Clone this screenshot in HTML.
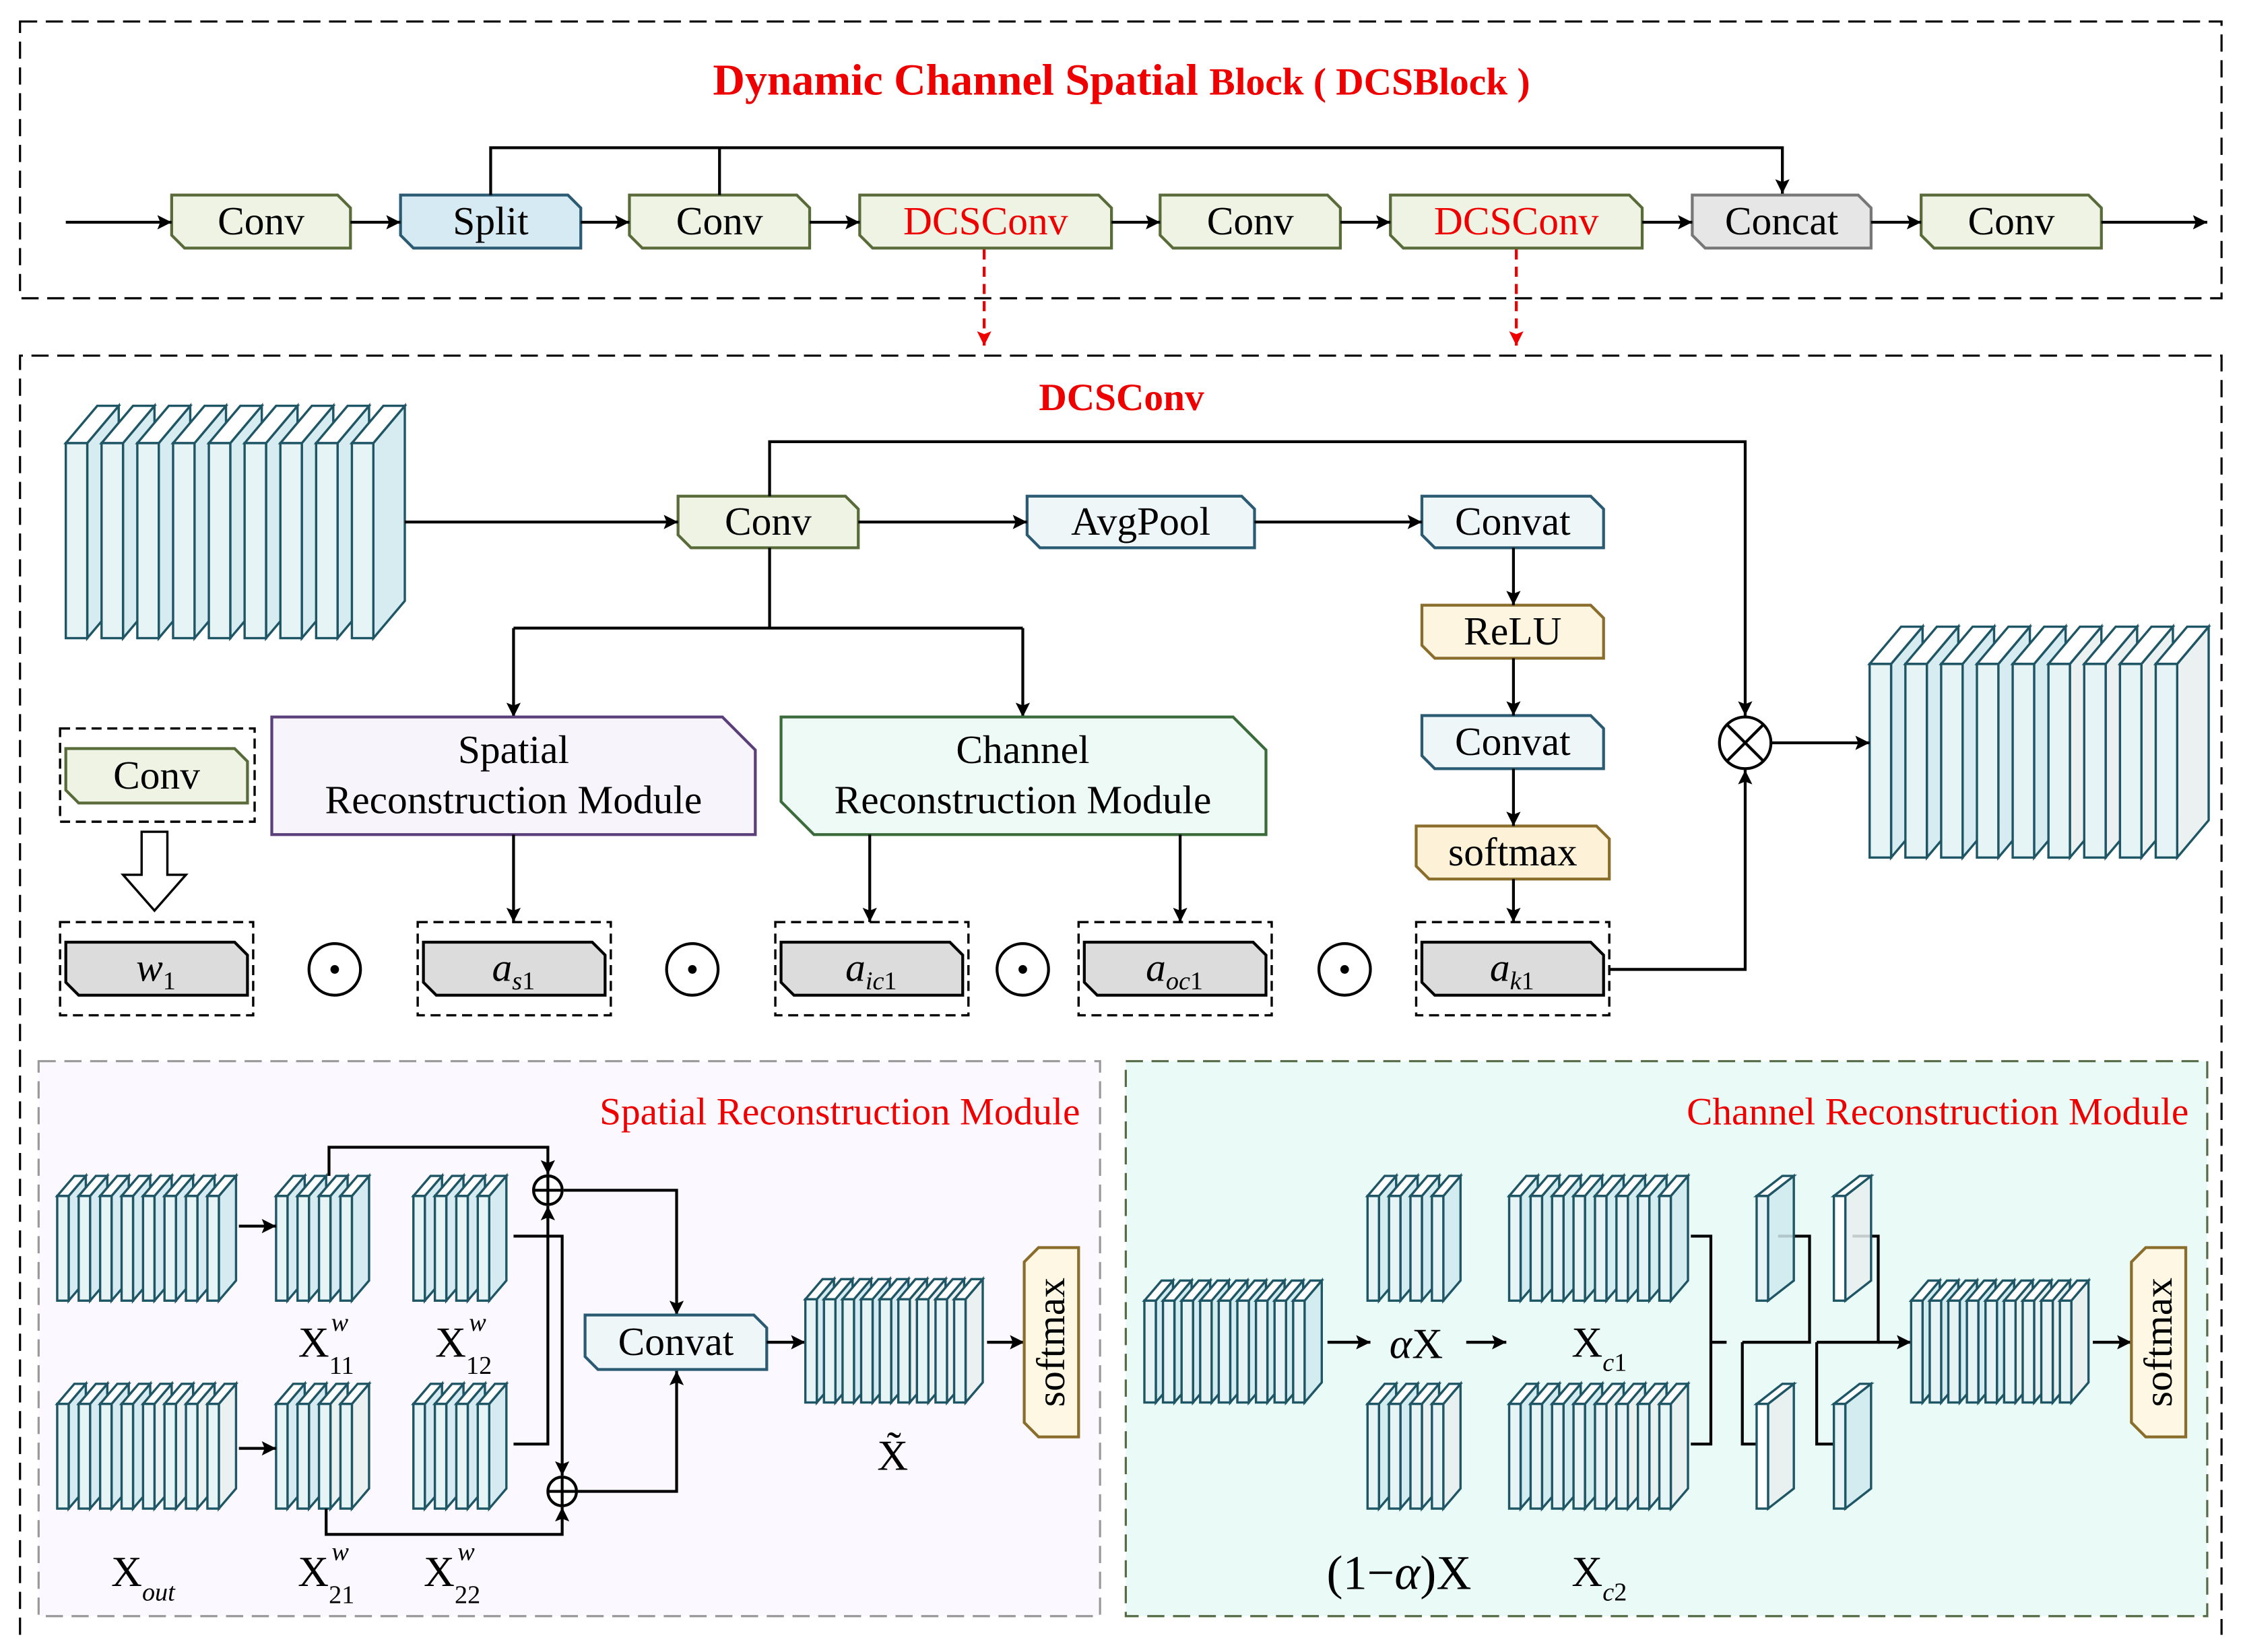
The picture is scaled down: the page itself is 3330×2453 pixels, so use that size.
<!DOCTYPE html>
<html><head><meta charset="utf-8"><style>
html,body{margin:0;padding:0;background:#fff}
svg{display:block}
text{font-family:"Liberation Serif",serif}
</style></head><body>
<svg id="s" width="3330" height="2453" viewBox="0 0 1568 1152" preserveAspectRatio="none" xmlns="http://www.w3.org/2000/svg">
<defs>
<marker id="a" viewBox="0 0 10 10" refX="10" refY="5" markerWidth="10" markerHeight="10" markerUnits="userSpaceOnUse" orient="auto"><path d="M0,0 L10,5 L0,10 L2,5z" fill="#000"/></marker>
<marker id="r" viewBox="0 0 10 10" refX="10" refY="5" markerWidth="10" markerHeight="10" markerUnits="userSpaceOnUse" orient="auto"><path d="M0,0 L10,5 L0,10 L2,5z" fill="#e00"/></marker>
</defs>
<rect x="27" y="740" width="742" height="387" fill="#fbf9ff" stroke="#999" stroke-width="1.5" stroke-dasharray="12,6"/>
<rect x="787" y="740" width="756" height="387" fill="#eafbf7" stroke="#556b45" stroke-width="1.5" stroke-dasharray="12,6"/>
<rect x="14" y="15" width="1539" height="193" fill="none" stroke="#000" stroke-width="1.5" stroke-dasharray="12,6"/>
<path d="M14,1140 V248 H1553 V1140" fill="none" stroke="#000" stroke-width="1.5" stroke-dasharray="12,6"/>
<text x="784" y="66" text-anchor="middle" fill="#e00" font-weight="bold" font-size="31">Dynamic Channel Spatial <tspan font-size="27">Block ( DCSBlock )</tspan></text>
<text x="784" y="286" text-anchor="middle" fill="#e00" font-weight="bold" font-size="27">DCSConv</text>
<text x="755" y="784" text-anchor="end" fill="#e00" font-size="27">Spatial Reconstruction Module</text>
<text x="1530" y="784" text-anchor="end" fill="#e00" font-size="27">Channel Reconstruction Module</text>
<g id="g" stroke-width="2" fill="none" stroke="#000"></g>
<g id="t"></g>
</svg>
<script>
const NS="http://www.w3.org/2000/svg",G=document.getElementById('g'),T=document.getElementById('t');
function el(tag,at,p){const e=document.createElementNS(NS,tag);for(const k in at)e.setAttribute(k,at[k]);(p||G).appendChild(e);return e;}
function txt(x,y,s,sz,o){const e=el('text',Object.assign({x:x,y:y,'text-anchor':'middle','font-size':sz,fill:'#000'},o||{}),T);e.innerHTML=s;return e;}
function tag(x,y,w,h,fill,st,c){const d=c||9;el('polygon',{points:`${x},${y} ${x+w-d},${y} ${x+w},${y+d} ${x+w},${y+h} ${x+d},${y+h} ${x},${y+h-d}`,fill:fill,stroke:st,'stroke-width':2});}
function box(x,y,w,h,fill,st,label,col,sz){tag(x,y,w,h,fill,st);txt(x+w/2,y+h/2+9,label,sz||28,{fill:col||'#000'});}
function line(pts,arrow,o){el('polyline',Object.assign({points:pts,fill:'none',stroke:'#000','stroke-width':2},arrow?{'marker-end':'url(#a)'}:{},o||{}));}
const SC='#1f5666';
function slab(x,y,w,h,dx,dy,f1,f2){
 el('polygon',{points:`${x+w},${y} ${x+w+dx},${y-dy} ${x+w+dx},${y+h-dy} ${x+w},${y+h}`,fill:f2,stroke:SC,'stroke-width':1.6,'fill-opacity':0.85});
 el('polygon',{points:`${x},${y} ${x+dx},${y-dy} ${x+w+dx},${y-dy} ${x+w},${y}`,fill:'#fff',stroke:SC,'stroke-width':1.6});
 el('rect',{x:x,y:y,width:w,height:h,fill:f1,stroke:SC,'stroke-width':1.6});}
function stack(x,top,bot,n,w,dx,dy,sp,grad){for(let i=0;i<n;i++){let t=i/(Math.max(n-1,1));let f2=grad?(t>0.5?'#e8eeef':'#cfe9ee'):'#cfe9ee';slab(x+i*sp,top+dy,w,bot-top-dy,dx,dy,'#e6f4f6',f2);}}
box(120,136,125,37,'#eef3e4','#5a6b3a','Conv');
box(280,136,126,37,'#d5eaf2','#2b5b73','Split');
box(440,136,126,37,'#eef3e4','#5a6b3a','Conv');
box(601,136,176,37,'#eef3e4','#5a6b3a','DCSConv','#e00');
box(811,136,126,37,'#eef3e4','#5a6b3a','Conv');
box(972,136,176,37,'#eef3e4','#5a6b3a','DCSConv','#e00');
box(1183,136,125,37,'#e6e6e6','#777','Concat');
box(1343,136,126,37,'#eef3e4','#5a6b3a','Conv');
[[46,120],[245,280],[406,440],[566,601],[777,811],[937,972],[1148,1183],[1308,1343],[1469,1543]].forEach(p=>line(`${p[0]},155 ${p[1]},155`,1));
line('343,136 343,103 1246,103 1246,135',1);line('503,136 503,103');
el('line',{x1:688,y1:174,x2:688,y2:241,stroke:'#e00','stroke-width':2,'stroke-dasharray':'7,5','marker-end':'url(#r)'});
el('line',{x1:1060,y1:174,x2:1060,y2:241,stroke:'#e00','stroke-width':2,'stroke-dasharray':'7,5','marker-end':'url(#r)'});
stack(46,283,445,9,15,22,26,25,false);
stack(1307,437,598,9,15,22,26,25,true);
box(474,346,126,36,'#eef3e4','#5a6b3a','Conv');
box(718,346,159,36,'#eef6f8','#2b5b73','AvgPool');
box(994,346,127,36,'#eef6f8','#2b5b73','Convat');
box(994,422,127,37,'#fdf5e0','#8a6d2a','ReLU');
box(994,499,127,37,'#eef6f8','#2b5b73','Convat');
box(990,576,135,37,'#fdf1d8','#8a6d2a','softmax');
line('283,364 474,364',1);line('600,364 718,364',1);line('877,364 994,364',1);
line('1058,382 1058,422',1);line('1058,459 1058,499',1);line('1058,536 1058,576',1);line('1058,613 1058,643',1);
line('538,346 538,308 1220,308 1220,499',1);
line('538,382 538,438');line('359,438 715,438');line('359,438 359,500',1);line('715,438 715,500',1);
el('polygon',{points:'190,500 505,500 528,523 528,582 190,582',fill:'#f7f4fc',stroke:'#5b3f7a','stroke-width':2});
txt(359,532,'Spatial',28);txt(359,567,'Reconstruction Module',28);
el('polygon',{points:'546,500 862,500 885,523 885,582 569,582 546,559',fill:'#eefaf6',stroke:'#3b6b3b','stroke-width':2});
txt(715,532,'Channel',28);txt(715,567,'Reconstruction Module',28);
el('rect',{x:42,y:508,width:136,height:65,fill:'none',stroke:'#000','stroke-width':1.6,'stroke-dasharray':'7,4'});
box(46,522,127,38,'#eef3e4','#5a6b3a','Conv');
el('polygon',{points:'99,580 117,580 117,610 130,610 108,635 86,610 99,610',fill:'#fff',stroke:'#000','stroke-width':1.6});
line('359,582 359,643',1);line('608,582 608,643',1);line('825,582 825,643',1);
const labs=[[42,'<tspan font-style="italic">w</tspan><tspan font-size="18" dy="6">1</tspan>'],[292,'<tspan font-style="italic">a</tspan><tspan font-size="18" dy="6" font-style="italic">s</tspan><tspan font-size="18">1</tspan>'],[542,'<tspan font-style="italic">a</tspan><tspan font-size="18" dy="6" font-style="italic">ic</tspan><tspan font-size="18">1</tspan>'],[754,'<tspan font-style="italic">a</tspan><tspan font-size="18" dy="6" font-style="italic">oc</tspan><tspan font-size="18">1</tspan>'],[990,'<tspan font-style="italic">a</tspan><tspan font-size="18" dy="6" font-style="italic">k</tspan><tspan font-size="18">1</tspan>']];
labs.forEach(l=>{el('rect',{x:l[0],y:643,width:135,height:65,fill:'none',stroke:'#000','stroke-width':1.6,'stroke-dasharray':'7,4'});tag(l[0]+4,657,127,37,'#dcdcdc','#000');txt(l[0]+67,684,l[1],28);});
[234,484,715,940].forEach(x=>{el('circle',{cx:x,cy:676,r:18,fill:'#fff',stroke:'#000','stroke-width':2});el('circle',{cx:x,cy:676,r:3,fill:'#000',stroke:'none'});});
line('1125,676 1220,676 1220,537',1);
el('circle',{cx:1220,cy:518,r:18,fill:'#fff',stroke:'#000','stroke-width':2});
line('1207,505 1233,531');line('1233,505 1207,531');
line('1238,518 1307,518',1);
stack(40,820,907,8,8,12,14,15,false);stack(40,965,1052,8,8,12,14,15,true);
stack(193,820,907,4,8,12,14,15,false);stack(289,820,907,4,8,12,14,15,false);
stack(193,965,1052,4,8,12,14,15,true);stack(289,965,1052,4,8,12,14,15,false);
line('167,855 193,855',1);line('167,1010 193,1010',1);
line('230,820 230,800 383,800 383,819',1);
line('359,1007 383,1007 383,841',1);
line('359,862 393,862 393,1029',1);
line('228,1052 228,1070 393,1070 393,1051',1);
line('394,830 473,830 473,917',1);line('404,1040 473,1040 473,956',1);
[[383,830],[393,1040]].forEach(c=>{el('circle',{cx:c[0],cy:c[1],r:10,fill:'#fff',stroke:'#000','stroke-width':2});line(`${c[0]-10},${c[1]} ${c[0]+10},${c[1]}`);line(`${c[0]},${c[1]-10} ${c[0]},${c[1]+10}`);});
box(409,917,127,38,'#eef6f8','#2b5b73','Convat',0,28);
line('536,936 563,936',1);
stack(563,892,978,9,8,12,14,13,true);
line('690,936 716,936',1);
el('polygon',{points:'716,880 726,870 754,870 754,1002 726,1002 716,992',fill:'#fdf7e4',stroke:'#8a6d2a','stroke-width':2});
txt(0,0,'softmax',28,{transform:'translate(744,936) rotate(-90)'});
txt(624,1025,'X&#771;',30);
function X(x,y,sup,sub){txt(x,y,`X<tspan font-size="18" dy="12">${sub}</tspan><tspan font-size="18" font-style="italic" dx="-16" dy="-30">${sup}</tspan>`,30);}
X(228,946,'w','11');X(324,946,'w','12');X(228,1106,'w','21');X(316,1106,'w','22');
txt(100,1106,'X<tspan font-size="18" font-style="italic" dy="10">out</tspan>',30);
stack(800,893,978,9,8,12,14,13,false);
line('928,936 958,936',1);
txt(990,947,'<tspan font-style="italic">α</tspan>X',30);line('1025,936 1053,936',1);
stack(956,820,907,4,8,12,14,15,false);stack(956,965,1052,4,8,12,14,15,true);
stack(1055,820,907,8,8,12,14,15,false);stack(1055,965,1052,8,8,12,14,15,true);
txt(1118,946,'X<tspan font-size="18" font-style="italic" dy="10">c</tspan><tspan font-size="18">1</tspan>',30);
txt(1118,1106,'X<tspan font-size="18" font-style="italic" dy="10">c</tspan><tspan font-size="18">2</tspan>',30);
txt(978,1108,'(1−<tspan font-style="italic">α</tspan>)X',34);
line('1182,862 1196,862 1196,1007 1182,1007');line('1196,936 1207,936');
line('1218,936 1218,1007 1233,1007');line('1218,936 1265,936 1265,862 1243,862');
line('1270,936 1270,1007 1285,1007');line('1270,936 1313,936 1313,862 1295,862');
line('1313,936 1336,936',1);
slab(1228,834,8,73,18,14,'#e6f4f6','#cfe9ee');slab(1282,834,8,73,18,14,'#fff','#e8eeef');
slab(1228,979,8,73,18,14,'#fff','#e8eeef');slab(1282,979,8,73,18,14,'#e6f4f6','#cfe9ee');
stack(1336,893,978,9,8,12,14,13,true);
line('1463,936 1490,936',1);
el('polygon',{points:'1490,880 1500,870 1528,870 1528,1002 1500,1002 1490,992',fill:'#fdf7e4',stroke:'#8a6d2a','stroke-width':2});
txt(0,0,'softmax',28,{transform:'translate(1518,936) rotate(-90)'});
</script>
</body></html>
